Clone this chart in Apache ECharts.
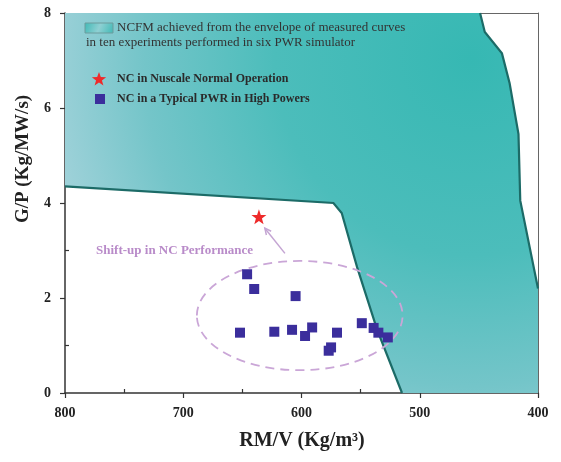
<!DOCTYPE html>
<html>
<head>
<meta charset="utf-8">
<script src="https://cdn.jsdelivr.net/npm/echarts@6/dist/echarts.min.js"></script>
<style>
html,body{margin:0;padding:0;background:#fff;}
#c{width:561px;height:462px;}
</style>
</head>
<body>
<div id="c"></div>
<script>
// ---- data ----
const xTicks = [800, 700, 600, 500, 400];
const yTicks = [0, 2, 4, 6, 8];
// NCFM envelope boundary (RM/V, G/P)
const envX = [800, 573, 566, 553, 536, 515, 400, 400, 415, 416.5, 424, 430.5, 445, 449, 800];
const envY = [4.35, 4.0, 3.79, 2.65, 1.33, 0, 0, 2.2, 4.05, 5.45, 6.52, 7.15, 7.6, 8, 8];
// NC in a typical PWR in high powers
const pwrX = [646, 640, 605, 652, 623, 608, 591, 597, 570, 575, 577, 549, 539, 535, 527];
const pwrY = [2.5, 2.19, 2.04, 1.27, 1.29, 1.33, 1.38, 1.2, 1.27, 0.96, 0.89, 1.47, 1.37, 1.27, 1.17];
// NC in Nuscale normal operation
const nusX = [636];
const nusY = [3.71];
// annotation: ellipse (center, radii) and arrow (tail -> tip)
const ellCenter = [601.5, 1.63];
const ellRadius = [87, 1.15];
const arrowTail = [614, 2.94];
const arrowTip = [631, 3.47];

const serif = '"Liberation Serif", "DejaVu Serif", serif';
const starPath = 'path://M0,-10 L2.35,-3.24 9.51,-3.09 3.8,1.24 5.88,8.09 0,4 -5.88,8.09 -3.8,1.24 -9.51,-3.09 -2.35,-3.24Z';

function starPoints(cx, cy, R, r) {
  const pts = [];
  for (let i = 0; i < 10; i++) {
    const a = -Math.PI / 2 + i * Math.PI / 5;
    const rr = i % 2 === 0 ? R : r;
    pts.push([cx + rr * Math.cos(a), cy + rr * Math.sin(a)]);
  }
  return pts;
}

const chart = echarts.init(document.getElementById('c'));

const envFill = new echarts.graphic.RadialGradient(0.86, 0.12, 1.15, [
  { offset: 0, color: '#36b8b3' },
  { offset: 0.45, color: '#4cbdbb' },
  { offset: 0.75, color: '#74c5c9' },
  { offset: 1, color: '#a4d3db' }
]);

const option = {
  animation: false,
  backgroundColor: '#fff',
  grid: { left: 65, right: 23, top: 13, bottom: 69 },
  xAxis: [{
    type: 'value', min: 400, max: 800, interval: 100, inverse: true,
    axisLine: { show: true, onZero: false, lineStyle: { color: '#333', width: 1.5 } },
    axisTick: { show: true, inside: false, length: 5, lineStyle: { color: '#333', width: 1.2 } },
    minorTick: { show: true, splitNumber: 2, length: -4, lineStyle: { color: '#333', width: 1.2 } },
    splitLine: { show: false },
    axisLabel: { margin: 13, color: '#222', fontFamily: serif, fontWeight: 'bold', fontSize: 14,
      formatter: v => xTicks.includes(v) ? String(v) : '' }
  }, {
    type: 'value', min: 400, max: 800, inverse: true, position: 'top',
    axisLine: { show: true, onZero: false, lineStyle: { color: '#666', width: 1 } },
    axisTick: { show: false }, axisLabel: { show: false }, splitLine: { show: false }
  }],
  yAxis: [{
    type: 'value', min: 0, max: 8, interval: 2,
    axisLine: { show: true, onZero: false, lineStyle: { color: '#333', width: 1.5 } },
    axisTick: { show: true, inside: false, length: 5, lineStyle: { color: '#333', width: 1.2 } },
    minorTick: { show: true, splitNumber: 2, length: -4, lineStyle: { color: '#333', width: 1.2 } },
    splitLine: { show: false },
    axisLabel: { margin: 14, color: '#222', fontFamily: serif, fontWeight: 'bold', fontSize: 14,
      formatter: v => yTicks.includes(v) ? String(v) : '' }
  }, {
    type: 'value', min: 0, max: 8, position: 'right',
    axisLine: { show: true, onZero: false, lineStyle: { color: '#666', width: 1 } },
    axisTick: { show: false }, axisLabel: { show: false }, splitLine: { show: false }
  }],
  series: [
    {
      type: 'custom', name: 'NCFM', z: 1,
      data: [0],
      renderItem: function (params, api) {
        const pts = envX.map((x, i) => api.coord([x, envY[i]]));
        const lower = pts.slice(0, 6);
        const right = pts.slice(7, 14);
        return {
          type: 'group',
          children: [
            { type: 'polygon', shape: { points: pts }, style: { fill: envFill, stroke: 'none' } },
            { type: 'polyline', shape: { points: lower }, style: { fill: 'none', stroke: '#1c6b67', lineWidth: 2.2 } },
            { type: 'polyline', shape: { points: right }, style: { fill: 'none', stroke: '#1c6b67', lineWidth: 2.2 } }
          ]
        };
      }
    },
    {
      type: 'custom', name: 'ellipse', z: 3,
      data: [0],
      renderItem: function (params, api) {
        const c = api.coord(ellCenter);
        const s = api.size(ellRadius);
        return {
          type: 'ellipse',
          shape: { cx: c[0], cy: c[1], rx: Math.abs(s[0]), ry: Math.abs(s[1]) },
          style: { fill: 'none', stroke: '#caa6d7', lineWidth: 1.8, lineDash: [9, 6] }
        };
      }
    },
    {
      type: 'custom', name: 'arrow', z: 3,
      data: [0],
      renderItem: function (params, api) {
        const a = api.coord(arrowTail);
        const b = api.coord(arrowTip);
        const ang = Math.atan2(b[1] - a[1], b[0] - a[0]);
        const L = 7, w = 0.45;
        const h1 = [b[0] - L * Math.cos(ang - w), b[1] - L * Math.sin(ang - w)];
        const h2 = [b[0] - L * Math.cos(ang + w), b[1] - L * Math.sin(ang + w)];
        return {
          type: 'group',
          children: [
            { type: 'line', shape: { x1: a[0], y1: a[1], x2: b[0], y2: b[1] }, style: { stroke: '#c4a5d3', lineWidth: 1.5 } },
            { type: 'polyline', shape: { points: [h1, b, h2] }, style: { fill: 'none', stroke: '#c4a5d3', lineWidth: 1.5 } }
          ]
        };
      }
    },
    {
      type: 'scatter', name: 'NC in a Typical PWR in High Powers', z: 5,
      symbol: 'rect', symbolSize: 10,
      itemStyle: { color: '#3b2e9c', opacity: 1 },
      data: pwrX.map((x, i) => [x, pwrY[i]])
    },
    {
      type: 'scatter', name: 'NC in Nuscale Normal Operation', z: 5,
      symbol: starPath, symbolSize: 15,
      itemStyle: { color: '#ee2a2a', opacity: 1 },
      data: nusX.map((x, i) => [x, nusY[i]])
    }
  ],
  graphic: [
    { type: 'rect', z: 10, shape: { x: 85, y: 23, width: 28, height: 10 },
      style: { fill: new echarts.graphic.LinearGradient(0, 0, 1, 1, [
        { offset: 0, color: '#3fb9b5' }, { offset: 0.5, color: '#8fd0d3' }, { offset: 1, color: '#3fb9b5' }]),
        stroke: '#6d9c9d', lineWidth: 1 } },
    { type: 'text', z: 10, x: 117, y: 28,
      style: { text: 'NCFM achieved from the envelope of measured curves', font: '13px ' + serif,
        fill: '#333', textAlign: 'left', textVerticalAlign: 'middle' } },
    { type: 'text', z: 10, x: 86, y: 43,
      style: { text: 'in ten experiments performed in six PWR simulator', font: '13px ' + serif,
        fill: '#333', textAlign: 'left', textVerticalAlign: 'middle' } },
    { type: 'polygon', z: 10, shape: { points: starPoints(99, 79.5, 7.5, 3.1) },
      style: { fill: '#ee2a2a' } },
    { type: 'text', z: 10, x: 117, y: 79,
      style: { text: 'NC in Nuscale Normal Operation', font: 'bold 12px ' + serif,
        fill: '#2a2a2a', textAlign: 'left', textVerticalAlign: 'middle' } },
    { type: 'rect', z: 10, shape: { x: 95, y: 94, width: 10, height: 10 }, style: { fill: '#3b2e9c' } },
    { type: 'text', z: 10, x: 117, y: 99,
      style: { text: 'NC in a Typical PWR in High Powers', font: 'bold 12px ' + serif,
        fill: '#2a2a2a', textAlign: 'left', textVerticalAlign: 'middle' } },
    { type: 'text', z: 10, x: 96, y: 251,
      style: { text: 'Shift-up in NC Performance', font: 'bold 13px ' + serif,
        fill: '#b98bc9', textAlign: 'left', textVerticalAlign: 'middle' } },
    { type: 'text', z: 10, x: 302, y: 441,
      style: { text: 'RM/V (Kg/m\u00b3)', font: 'bold 20px ' + serif,
        fill: '#222', textAlign: 'center', textVerticalAlign: 'middle' } },
    { type: 'text', z: 10, x: 23, y: 159, rotation: Math.PI / 2,
      style: { text: 'G/P (Kg/MW/s)', font: 'bold 19px ' + serif,
        fill: '#222', textAlign: 'center', textVerticalAlign: 'middle' } }
  ]
};
chart.setOption(option);
</script>
</body>
</html>
